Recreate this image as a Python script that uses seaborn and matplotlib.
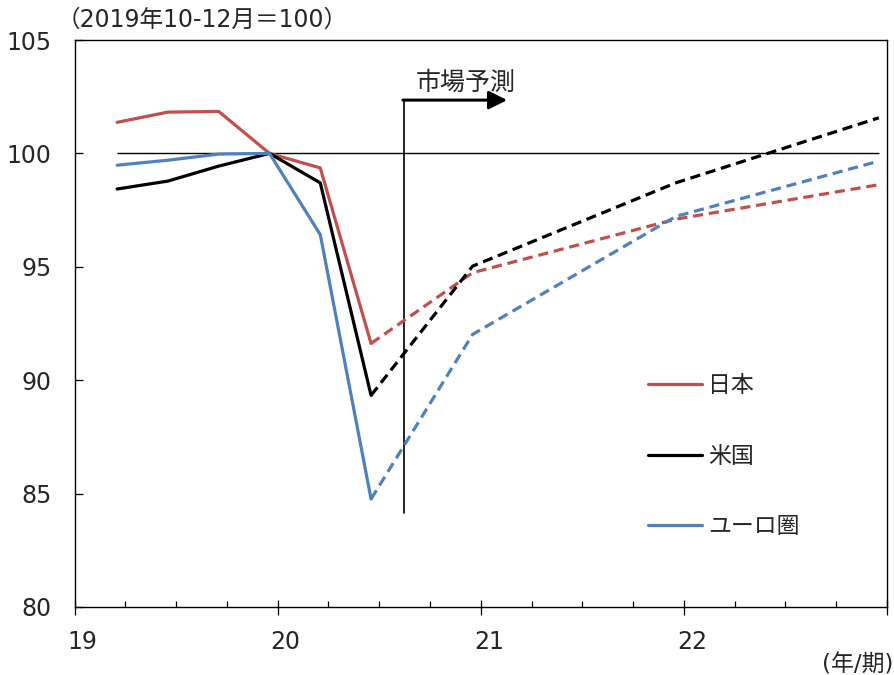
import matplotlib
matplotlib.use("Agg")
import matplotlib.pyplot as plt
import matplotlib.transforms as mtransforms
from matplotlib.lines import Line2D
from matplotlib.ticker import MultipleLocator, FixedLocator
import numpy as np
import pandas as pd
import seaborn as sns

# Quarterly real GDP index, 2019 Q4 = 100 (actuals then market forecasts)
years = [2019, 2019, 2019, 2019, 2020, 2020, 2020, 2021, 2022]
quarter_nums = [1, 2, 3, 4, 1, 2, 4, 4, 4]
japan = [101.37, 101.82, 101.85, 100.0, 99.36, 91.62, 94.74, 97.10, 98.62]
usa = [98.43, 98.78, 99.44, 100.0, 98.70, 89.33, 95.03, 98.70, 101.57]
euro = [99.48, 99.70, 99.97, 100.0, 96.42, 84.76, 92.02, 97.22, 99.66]
series_names = ["日本", "米国", "ユーロ圏"]
colors = {"日本": "#C0504D", "米国": "#000000", "ユーロ圏": "#4F81BD"}
last_actual = 5          # index of the last actual observation (2020 Q2)
base_level = 100.0
forecast_marker = 20.62  # boundary drawn for the start of market forecasts

sns.set_style("white")
plt.rcParams["font.family"] = ["DejaVu Sans", "Noto Sans CJK JP"]
FS = 17
FS_CJK = 16.5

# x position: two-digit year plus quarter, plotted near the quarter end
pos = [y - 2000 + q * 0.25 - 0.04 for y, q in zip(years, quarter_nums)]

rows = []
for name, vals in zip(series_names, [japan, usa, euro]):
    for i, (p, v) in enumerate(zip(pos, vals)):
        if i <= last_actual:
            rows.append({"x": p, "value": v, "country": name, "kind": "実績"})
        if i >= last_actual:
            rows.append({"x": p, "value": v, "country": name, "kind": "予測"})
df = pd.DataFrame(rows)

fig = plt.figure(figsize=(8.94, 6.75), dpi=100)
ax = fig.add_axes([74.5 / 894, 1 - 607 / 675, (887 - 74.5) / 894, (607 - 40) / 675])

# reference level
ax.hlines(base_level, pos[0], pos[-1], color="black", lw=1.0, zorder=1)

sns.lineplot(data=df, x="x", y="value", hue="country", style="kind",
             hue_order=series_names, palette=colors,
             style_order=["実績", "予測"],
             dashes={"実績": "", "予測": (3.2, 1.8)},
             estimator=None, sort=True, lw=2.3, legend=False, ax=ax, zorder=3)

ax.set_xlim(19, 23)
ax.set_ylim(80, 105)
ax.set_xlabel("")
ax.set_ylabel("")

ax.xaxis.set_major_locator(FixedLocator([19, 20, 21, 22, 23]))
ax.set_xticklabels(["19", "20", "21", "22", ""])
ax.xaxis.set_minor_locator(MultipleLocator(0.25))
ax.yaxis.set_major_locator(MultipleLocator(5))

ax.tick_params(axis="x", which="major", direction="inout", length=10.8, width=0.9,
               labelsize=FS, pad=11, color="black", bottom=True)
ax.tick_params(axis="x", which="minor", direction="in", length=4.3, width=0.9,
               color="black", bottom=True)
ax.tick_params(axis="y", which="major", direction="in", length=5.8, width=0.9,
               labelsize=FS, pad=16.5, color="black", left=True)
shift = mtransforms.ScaledTranslation(8 / 100, 0, fig.dpi_scale_trans)
for lbl in ax.get_xticklabels():
    lbl.set_transform(lbl.get_transform() + shift)
for s in ax.spines.values():
    s.set_visible(True)
    s.set_color("black")
    s.set_linewidth(1.0)

# start of market forecasts
arrow_y = 102.35
ax.plot([forecast_marker, forecast_marker], [84.14, arrow_y], color="black",
        lw=1.2, zorder=2)
ax.annotate("", xy=(21.13, arrow_y), xytext=(forecast_marker - 0.003, arrow_y),
            arrowprops=dict(arrowstyle="-|>,head_length=1.1,head_width=0.55",
                            lw=2.2, color="black", mutation_scale=10,
                            shrinkA=0, shrinkB=0))
ax.text(20.68, 103.1, "市場予測", fontsize=18, va="center", ha="left")

handles = [Line2D([0], [0], color=colors[n], lw=2.3) for n in series_names]
ax.legend(handles, series_names, loc="upper left",
          bbox_to_anchor=((648 - 74.5) / 812.5, 1 - (374 - 40) / 567),
          frameon=False, fontsize=FS_CJK, handlelength=2.36, handletextpad=0.26,
          labelspacing=2.08, borderaxespad=0, borderpad=0)

fig.text(57 / 894, 1 - 20 / 675, "（2019年10-12月＝100）", fontsize=FS,
         va="center", ha="left")
fig.text(893 / 894, 1 - 665 / 675, "(年/期)", fontsize=FS_CJK, va="center",
         ha="right")

fig.savefig("out.png", dpi=100)
